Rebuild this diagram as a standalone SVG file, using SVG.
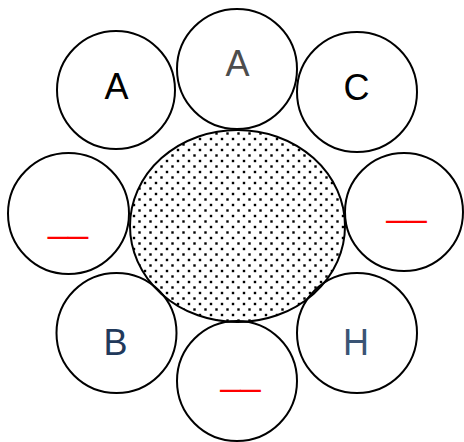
<svg xmlns="http://www.w3.org/2000/svg" width="464" height="442" viewBox="0 0 464 442">
  <style>
    .c { fill: #ffffff; stroke: #000000; stroke-width: 2; }
    .t { font-family: "Liberation Sans", Arial, sans-serif; font-size: 36px; text-anchor: middle; }
    .u { fill: #ff0000; }
  </style>
  <defs>
    <pattern id="dots" patternUnits="userSpaceOnUse" x="0" y="0" width="11" height="11">
      <rect x="6.3" y="0.3" width="2.4" height="2.4" fill="#000"/>
      <rect x="0.8" y="5.8" width="2.4" height="2.4" fill="#000"/>
    </pattern>
  </defs>
  <rect width="464" height="442" fill="#ffffff"/>
  <g id="connectors"></g>
  <g id="node-top-left">
    <circle class="c" cx="116" cy="90" r="59"/>
    <text class="t" x="116.5" y="99" fill="#000000">A</text>
  </g>
  <g id="node-top">
    <circle class="c" cx="237" cy="69" r="60"/>
    <text class="t" x="237.5" y="76" fill="#4d4d4d">A</text>
  </g>
  <g id="node-top-right">
    <circle class="c" cx="357" cy="92" r="60"/>
    <text class="t" x="356.5" y="100" fill="#000000">C</text>
  </g>
  <g id="node-left">
    <circle class="c" cx="68.5" cy="213.5" r="60.5"/>
    <text class="t u" x="68" y="232">__</text>
  </g>
  <g id="node-right">
    <circle class="c" cx="404" cy="212" r="59"/>
    <text class="t u" x="406.5" y="216">__</text>
  </g>
  <g id="node-bottom-left">
    <circle class="c" cx="116.5" cy="333" r="60"/>
    <text class="t" x="115.5" y="355" fill="#21395b">B</text>
  </g>
  <g id="node-bottom-right">
    <circle class="c" cx="357" cy="333" r="60"/>
    <text class="t" x="356" y="355" fill="#3a5475">H</text>
  </g>
  <g id="node-bottom">
    <circle class="c" cx="237" cy="381" r="60"/>
    <text class="t u" x="240.5" y="385">__</text>
  </g>
  <g id="node-center">
    <ellipse cx="237.5" cy="226" rx="107.5" ry="96" fill="url(#dots)" stroke="#000000" stroke-width="2"/>
  </g>
</svg>
